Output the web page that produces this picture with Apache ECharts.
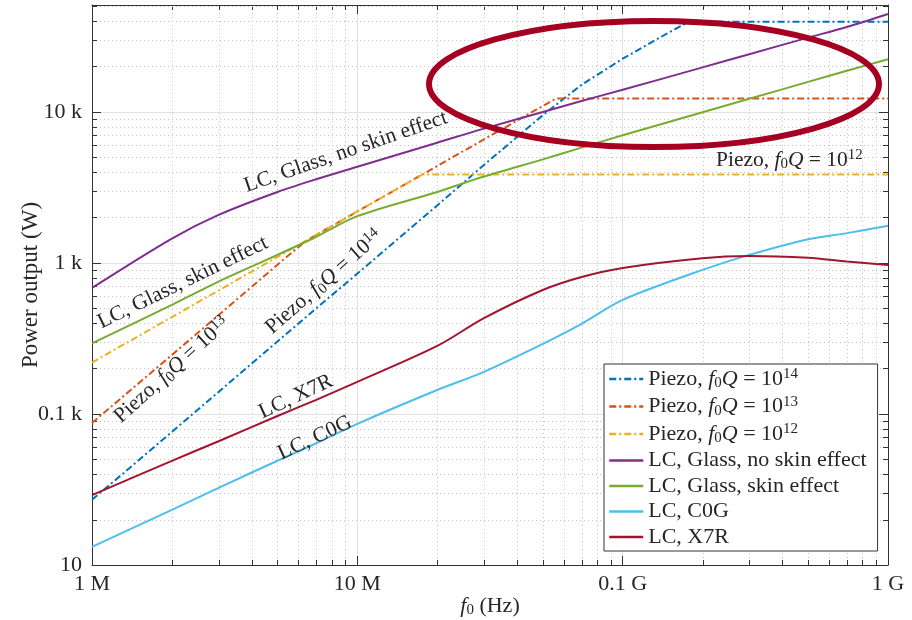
<!DOCTYPE html>
<html><head><meta charset="utf-8">
<script src="https://cdn.jsdelivr.net/npm/echarts@6/dist/echarts.min.js"></script>
<style>html,body{margin:0;padding:0;background:#fff}#c{width:912px;height:620px}</style>
</head><body><div id="c"></div>
<script>
// ---- tick labels ----
const xTickValues = [1e6, 1e7, 1e8, 1e9];
const xTickLabels = ['1 M', '10 M', '0.1 G', '1 G'];
const yTickValues = [10, 100, 1000, 10000];
const yTickLabels = ['10', '0.1 k', '1 k', '10 k'];

// ---- series names ----
const seriesNames = ['Piezo, f0Q = 10^14', 'Piezo, f0Q = 10^13', 'Piezo, f0Q = 10^12',
  'LC, Glass, no skin effect', 'LC, Glass, skin effect', 'LC, C0G', 'LC, X7R'];

// ---- data (frequency in Hz, power in W) ----
const freqPiezo14 = [1e6, 2e6, 3e6, 5e6, 7e6, 1e7, 2e7, 3e7, 5e7, 7e7, 1e8, 1.5e8, 1.78e8, 1e9];
const powerPiezo14 = [27, 76, 140, 302, 500, 850, 2400, 4450, 9500, 15100, 22500, 33700, 39500, 39500];
const freqPiezo13 = [1e6, 2e6, 3e6, 5e6, 6.4e6, 1e7, 2e7, 3e7, 5.6e7, 1e9];
const powerPiezo13 = [87, 246, 452, 973, 1400, 2190, 4380, 6570, 12250, 12250];
const freqPiezo12 = [1e6, 1e7, 1.76e7, 1e9];
const powerPiezo12 = [219, 2190, 3850, 3850];
const freqLC = [1e6, 2e6, 3e6, 5e6, 7e6, 1e7, 2e7, 3e7, 5e7, 7e7, 1e8, 2e8, 3e8, 5e8, 7e8, 1e9];
const powerGlassNoSkin = [683, 1450, 2080, 2950, 3580, 4330, 6250, 7750, 9980, 11800, 14000, 19700, 24100, 31000, 36500, 44500];
const powerGlassSkin = [293, 527, 752, 1130, 1490, 2040, 2950, 3730, 4850, 5800, 7000, 9930, 12200, 15800, 18700, 22300];
const powerC0G = [13.2, 23.2, 32.4, 49, 64, 86, 144, 190, 291, 395, 569, 899, 1130, 1435, 1575, 1760];
const powerX7R = [29, 48.9, 66, 96.9, 124, 163, 282, 431, 662, 807, 927, 1075, 1110, 1080, 1020, 970];

// ---- inline label anchors [f, P, rotation] ----
const inlineLabels = {
  'LC, Glass, no skin effect': [9.05e6, 5430, 19],
  'LC, Glass, skin effect': [2.2e6, 740, 26],
  'Piezo, f0Q = 10^13': [2.0e6, 195, 42],
  'Piezo, f0Q = 10^14': [7.48e6, 748, 41],
  'LC, X7R': [5.87e6, 130, 25],
  'LC, C0G': [6.92e6, 69.3, 25],
  'Piezo, f0Q = 10^12': [4.25e8, 4810, 0]
};

const colors = ['#0072BD', '#D95319', '#EDB120', '#7E2F8E', '#77AC30', '#4DBEEE', '#A2142F'];
const FONT = 'Liberation Serif';
const TXT = '#262626';

function richName(name) {
  if (name.indexOf('Piezo') === 0) {
    const e = name.split('^')[1];
    return '{n|Piezo, }{i|f}{sub|0}{i|Q}{n| = 10}{sup|' + e + '}';
  }
  return '{n|' + name + '}';
}
function richStyles(size) {
  const lh = Math.round(size * 1.1);
  return {
    n: { fontFamily: FONT, fontSize: size, color: TXT, lineHeight: lh },
    i: { fontFamily: FONT, fontSize: size, fontStyle: 'italic', color: TXT, lineHeight: lh },
    sub: { fontFamily: FONT, fontSize: Math.round(size * 0.68), color: TXT, verticalAlign: 'bottom', lineHeight: lh },
    sup: { fontFamily: FONT, fontSize: Math.round(size * 0.68), color: TXT, verticalAlign: 'top', lineHeight: lh }
  };
}
function zip(f, p) { return f.map((v, i) => [v, p[i]]); }
function tickFmt(vals, labels) {
  return function (v) {
    for (let i = 0; i < vals.length; i++) {
      if (Math.abs(Math.log10(v) - Math.log10(vals[i])) < 1e-6) return labels[i];
    }
    return '';
  };
}

const dataSets = [
  zip(freqPiezo14, powerPiezo14), zip(freqPiezo13, powerPiezo13), zip(freqPiezo12, powerPiezo12),
  zip(freqLC, powerGlassNoSkin), zip(freqLC, powerGlassSkin), zip(freqLC, powerC0G), zip(freqLC, powerX7R)
];
const dashDot = [7, 3, 2, 3];

const Y_MAX = 51000;
// minor grid positions
const minorX = [], minorY = [];
for (let n = 6; n < 9; n++) for (let k = 2; k <= 9; k++) minorX.push(k * Math.pow(10, n));
for (let n = 1; n <= 4; n++) for (let k = 2; k <= 9; k++) { const v = k * Math.pow(10, n); if (v < Y_MAX) minorY.push(v); }
const minorData = minorX.map(v => [v, 10, 0]).concat(minorY.map(v => [1e6, v, 1]));

const series = seriesNames.map((name, i) => {
  const lab = inlineLabels[name];
  return {
    name: name, type: 'line', data: dataSets[i], showSymbol: false, symbol: 'none',
    smooth: i >= 3 ? 0.3 : false, z: 3,
    lineStyle: { color: colors[i], width: 2, type: i < 3 ? dashDot : 'solid' },
    itemStyle: { color: colors[i] },
    markPoint: {
      symbol: 'circle', symbolSize: 0, silent: true,
      data: [{ coord: [lab[0], lab[1]] }],
      label: { show: true, position: 'inside', rotate: lab[2], formatter: richName(name), rich: richStyles(21.5) }
    }
  };
});

series.unshift({
  type: 'custom', z: 1, silent: true, data: minorData, encode: { x: 0, y: 1 },
  renderItem: function (params, api) {
    const cs = params.coordSys;
    const kind = api.value(2);
    if (kind === 0) {
      const x = Math.round(api.coord([api.value(0), 100])[0]) + 0.5;
      return { type: 'group', children: [
        { type: 'line', shape: { x1: x, y1: cs.y, x2: x, y2: cs.y + cs.height }, style: { stroke: '#c4c4c4', lineWidth: 1, lineDash: [1, 3] } },
        { type: 'line', shape: { x1: x, y1: cs.y + cs.height, x2: x, y2: cs.y + cs.height - 5 }, style: { stroke: '#333', lineWidth: 1 } },
        { type: 'line', shape: { x1: x, y1: cs.y, x2: x, y2: cs.y + 5 }, style: { stroke: '#333', lineWidth: 1 } }
      ] };
    } else {
      const y = Math.round(api.coord([1e7, api.value(1)])[1]) + 0.5;
      return { type: 'group', children: [
        { type: 'line', shape: { x1: cs.x, y1: y, x2: cs.x + cs.width, y2: y }, style: { stroke: '#c4c4c4', lineWidth: 1, lineDash: [1, 3] } },
        { type: 'line', shape: { x1: cs.x, y1: y, x2: cs.x + 5, y2: y }, style: { stroke: '#333', lineWidth: 1 } },
        { type: 'line', shape: { x1: cs.x + cs.width, y1: y, x2: cs.x + cs.width - 5, y2: y }, style: { stroke: '#333', lineWidth: 1 } }
      ] };
    }
  }
});

const axisCommon = {
  axisLine: { show: true, lineStyle: { color: '#333', width: 1 } },
  axisTick: { show: true, inside: true, length: 9, lineStyle: { color: '#333' } },
  minorTick: { show: false }, minorSplitLine: { show: false }
};

const chart = echarts.init(document.getElementById('c'), null, { renderer: 'canvas' });
chart.setOption({
  animation: false,
  backgroundColor: '#fff',
  color: colors,
  grid: { left: 92, right: 24, top: 5, bottom: 55, containLabel: false, outerBoundsMode: 'none' },
  xAxis: [
    Object.assign({}, axisCommon, {
      type: 'log', logBase: 10, min: 1e6, max: 1e9, position: 'bottom',
      axisLabel: { formatter: tickFmt(xTickValues, xTickLabels), fontFamily: FONT, fontSize: 22, color: TXT, margin: 8 },
      splitLine: { show: true, lineStyle: { color: '#e2e2e2', width: 1 } },
      name: '{i|f}{sub|0}{n| (Hz)}', nameLocation: 'middle', nameGap: 29, nameMoveOverlap: false,
      nameTextStyle: { rich: richStyles(22) }
    }),
    Object.assign({}, axisCommon, {
      type: 'log', logBase: 10, min: 1e6, max: 1e9, position: 'top',
      axisLabel: { show: false }, splitLine: { show: false }
    })
  ],
  yAxis: [
    Object.assign({}, axisCommon, {
      type: 'log', logBase: 10, min: 10, max: Y_MAX, position: 'left',
      axisLabel: { formatter: tickFmt(yTickValues, yTickLabels), fontFamily: FONT, fontSize: 22, color: TXT, margin: 10, showMaxLabel: false },
      splitLine: { show: true, lineStyle: { color: '#e2e2e2', width: 1 } },
      name: 'Power output (W)', nameLocation: 'middle', nameGap: 50, nameRotate: 90, nameMoveOverlap: false,
      nameTextStyle: { fontFamily: FONT, fontSize: 23, color: TXT }
    }),
    Object.assign({}, axisCommon, {
      type: 'log', logBase: 10, min: 10, max: Y_MAX, position: 'right',
      axisLabel: { show: false }, splitLine: { show: false }
    })
  ],
  legend: {
    data: seriesNames, orient: 'vertical', left: 604, top: 364,
    padding: [3, 11, 3, 4], itemGap: 3.5, itemWidth: 34, itemHeight: 14,
    backgroundColor: '#fff', borderColor: '#333', borderWidth: 1, borderRadius: 0,
    formatter: richName,
    textStyle: { rich: richStyles(22) },
    lineStyle: { width: 2.5 },
    itemStyle: { opacity: 0 },
    z: 10
  },
  graphic: [{
    type: 'ellipse', shape: { cx: 654, cy: 84, rx: 225, ry: 63 },
    style: { fill: 'none', stroke: '#A50021', lineWidth: 6 }, z: 100
  }],
  series: series
});
</script></body></html>
